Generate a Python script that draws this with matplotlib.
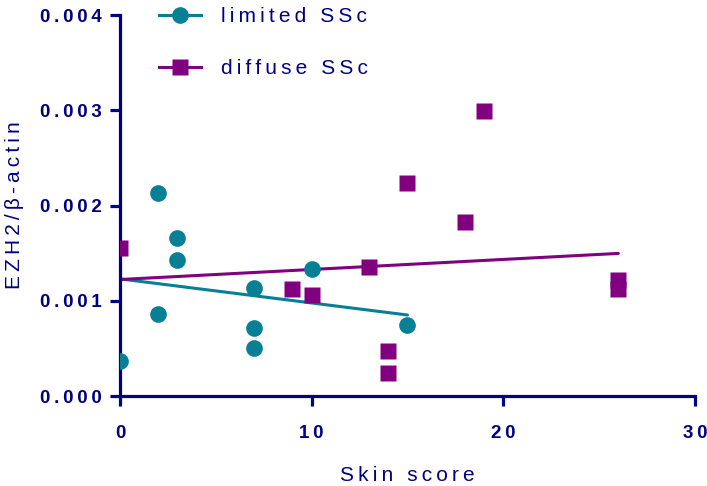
import matplotlib
matplotlib.use("Agg")
import matplotlib.pyplot as plt
import numpy as np

# data
lim_x = [0, 2, 2, 3, 3, 7, 7, 7, 10, 15]
lim_y = [0.00037, 0.00213, 0.00086, 0.00166, 0.00143, 0.00113, 0.00072, 0.00051, 0.00133, 0.00075]
dif_x = [0, 9, 10, 13, 14, 14, 15, 18, 19, 26, 26]
dif_y = [0.00155, 0.00112, 0.00106, 0.00135, 0.00047, 0.00024, 0.00224, 0.00183, 0.00299, 0.00122, 0.00112]
x_ticks = [0, 10, 20, 30]
y_ticks = [0.000, 0.001, 0.002, 0.003, 0.004]

navy = "#000080"
teal = "#077f95"
purple = "#800080"

plt.rcParams['font.family'] = ['Liberation Sans', 'DejaVu Sans']

def spaced(s):
    return '\u2009'.join(s)

fig = plt.figure(figsize=(7.07, 4.86), dpi=100)
ax = fig.add_axes([0.1697, 0.185, 0.8133, 0.784])

# regression lines
for xs, ys, c in [(lim_x, lim_y, teal), (dif_x, dif_y, purple)]:
    k, b = np.polyfit(xs, ys, 1)
    xx = np.array([min(xs), max(xs)])
    ax.plot(xx, k * xx + b, color=c, lw=2.2, solid_capstyle='round', zorder=2)

ax.plot(lim_x, lim_y, 'o', color=teal, ms=12, mec='none', zorder=3)
ax.plot(dif_x, dif_y, 's', color=purple, ms=12, mec='none', zorder=3)

# legend handles
h1, = ax.plot([], [], '-o', color=teal, ms=12, lw=2.2, mec='none')
h2, = ax.plot([], [], '-s', color=purple, ms=12, lw=2.2, mec='none')
leg = ax.legend([h1, h2], [spaced("limited SSc"), spaced("diffuse SSc")],
                loc='upper left', bbox_to_anchor=(0.035, 1.07), frameon=False,
                fontsize=15, labelspacing=1.6, handlelength=2.0, handletextpad=1.0)
for t in leg.get_texts():
    t.set_color(navy)

ax.set_xlim(0, 30)
ax.set_ylim(0, 0.004)
ax.set_xticks(x_ticks)
ax.set_yticks(y_ticks)
ax.set_xticklabels([spaced("%d" % v) for v in x_ticks], fontweight='bold')
ax.set_yticklabels([spaced("%.3f" % v) for v in y_ticks], fontweight='bold')

for s in ['top', 'right']:
    ax.spines[s].set_visible(False)
for s in ['left', 'bottom']:
    ax.spines[s].set_color(navy)
    ax.spines[s].set_linewidth(2.3)
ax.tick_params(colors=navy, width=2.3, length=7, direction='out', labelsize=13.5, pad=6)
ax.tick_params(axis='x', pad=14)

ax.set_xlabel(spaced("Skin score"), color=navy, fontsize=15, labelpad=17)
ax.set_ylabel(spaced("EZH2/β-actin"), color=navy, fontsize=15, labelpad=12)

fig.savefig("out.png", dpi=100)
